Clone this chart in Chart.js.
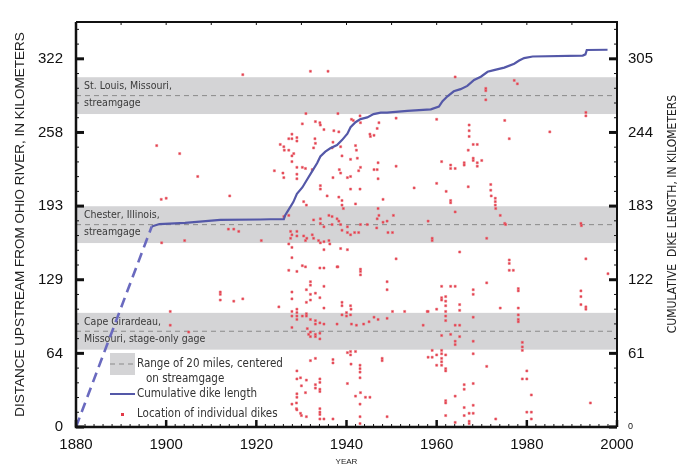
<!DOCTYPE html>
<html>
<head>
<meta charset="utf-8">
<script src="https://cdn.jsdelivr.net/npm/chart.js@4.4.1/dist/chart.umd.min.js"></script>
<style>
  html, body { margin: 0; padding: 0; background: #fff; }
  #wrap { width: 680px; height: 467px; }
</style>
</head>
<body>
<div id="wrap"><canvas id="dikeChart" width="680" height="467"></canvas></div>
<script>
// Datos del grafico
const leftTickLabels = ['0', '64', '129', '193', '258', '322'];
const rightTickLabels = ['0', '61', '122', '183', '244', '305'];
const xTickLabels = ['1880', '1900', '1920', '1940', '1960', '1980', '2000'];

// Gages (km aguas arriba del rio Ohio) y rango de 20 millas
const gageNames = [['St. Louis, Missouri,', 'streamgage'], ['Chester, Illinois,', 'streamgage'], ['Cape Girardeau,', 'Missouri, stage-only gage']];
const gageKm = [289.7, 176.9, 83.7];
const bandHalfKm = 16.09;

// Longitud acumulada de diques (km, eje derecho)
const dashYears = [1880, 1896.8];
const dashKm = [0, 166];
const lineYears = [1896.8, 1898.5, 1904.2, 1912.0, 1920.9, 1923.1, 1926.1, 1926.4, 1927.1, 1928.2, 1929.0, 1930.2, 1931.3, 1932.4, 1933.5, 1934.2, 1935.3, 1936.4, 1937.9, 1939.0, 1940.2, 1940.9, 1942.0, 1943.1, 1944.6, 1946.0, 1947.6, 1949.0, 1953.5, 1958.7, 1960.5, 1961.3, 1962.4, 1963.8, 1965.3, 1966.8, 1968.3, 1969.8, 1971.3, 1972.7, 1975.0, 1977.2, 1978.3, 1979.4, 1981.3, 1992.4, 1993.0, 1993.3, 1997.9];
const lineKm = [166, 168, 169, 171.4, 171.8, 172.0, 172.0, 175.4, 179.5, 186.2, 193.0, 198.3, 205.1, 211.8, 218.5, 224.0, 228.0, 230.7, 233.4, 237.5, 242.8, 248.2, 252.3, 254.9, 256.3, 259.0, 260.3, 260.3, 261.7, 263.0, 265.2, 269.8, 273.8, 277.9, 279.7, 282.4, 287.3, 290.0, 294.1, 295.4, 297.5, 300.8, 303.4, 305.4, 306.7, 307.5, 308.5, 312.1, 312.3];

// Ubicacion de diques individuales [anio, km]
const dikes = [
  [1897.9,246],[1898.9,199],[1900.0,200],[1899.0,161],[1900.9,89],[1900.9,101],[1903.0,239],[1904.1,163],[1905.0,83],[1907.0,219],
  [1912.0,118],[1912.0,116],[1912.0,111],[1914.1,202],[1913.8,173],[1915.0,173],[1916.1,171],[1915.0,110],[1917.0,112],[1917.0,308],
  [1921.1,163],[1924.0,224],[1925.0,105],[1925.3,247],[1926.1,245],[1926.2,242],[1925.9,222],[1926.1,218],[1926.1,184],[1927.2,185],
  [1927.2,252],[1927.9,252],[1927.9,256],[1929.0,253],[1929.0,250],[1927.2,242],[1928.3,239],[1927.9,237],[1927.9,232],[1929.0,227],[1929.0,221],[1929.0,217],
  [1930.2,265],[1930.2,227],[1930.9,226],[1931.0,274],[1930.5,197],[1931.1,194],[1932.4,225],[1932.7,244],[1933.0,252],[1933.1,248],[1933.1,267],[1934.1,266],
  [1934.2,264],[1935.0,260],[1934.2,211],[1934.2,208],[1935.7,202],[1935.9,311],[1932.0,311],
  [1936.8,244],[1937.0,249],[1937.2,259],[1938.3,258],[1938.1,274],[1937.0,218],[1938.4,225],[1938.7,222],[1938.7,245],[1939.0,237],[1940.2,218],[1940.9,219],
  [1940.9,234],[1942.4,235],[1942.0,246],[1942.2,242],[1941.5,268],[1943.1,266],[1941.1,269],[1943.0,272],[1943.1,227],[1942.7,224],[1938.3,201],[1939.0,198],
  [1939.0,194],[1939.3,191],[1940.9,208],[1943.0,208],[1942.0,195],
  [1945.2,256],[1945.3,254],[1946.1,255],[1946.8,261],[1947.2,266],[1946.8,225],[1947.0,217],[1947.0,231],[1946.1,225],
  [1951.0,270],[1951.0,228],[1955.0,209],[1948.1,199],[1947.0,191],[1947.2,185],[1950.4,185],[1948.1,179],[1949.0,180],[1949.2,170],[1950.2,170],[1951.0,147],
  [1949.0,127],[1949.0,120],[1938.1,140],[1950.2,101],[1952.9,101],[1949.0,95],[1957.0,89],[1957.9,101],[1947.9,60],[1947.9,58],[1949.0,9],
  [1960.0,269],[1967.2,264],[1967.2,259],[1967.2,254],[1975.1,268],[1976.1,252],[1985.1,258],[1993.1,275],[1993.1,272],[1968.1,247],[1969.0,247],[1967.0,242],
  [1961.1,232],[1966.1,231],[1966.1,229],[1968.1,235],[1968.1,233],[1969.0,231],[1969.0,228],[1970.0,233],[1963.1,229],[1963.1,226],[1964.1,226],[1960.0,213],
  [1962.1,206],[1967.0,210],[1972.0,212],[1972.0,207],[1972.1,202],[1973.0,200],[1973.0,197],[1973.0,194],[1973.1,191],[1963.1,198],[1963.1,196],
  [1964.1,188],[1974.1,185],[1958.1,180],[1975.1,178],[1975.3,177],[1992.0,178],[1992.1,176],[1959.0,165],[1959.0,163],[1971.1,165],[1965.1,153],[1976.1,146],
  [1976.1,143],[1976.1,137],[1977.0,137],[1993.1,147],[1998.0,134],[1971.1,126],[1961.1,123],[1963.1,123],[1964.1,123],[1978.1,121],[1978.1,119],
  [1968.1,120],[1968.1,116],[1961.1,113],[1961.1,111],[1992.0,119],[1992.0,114],[1992.0,107],[1993.1,105],[1993.1,103],
  [1962.0,114],[1962.0,110],[1962.0,106],[1962.0,101],[1962.0,97],[1962.0,93],[1960.0,103],[1965.1,107],[1965.1,102],[1958.1,101],[1974.1,104],[1978.1,104],
  [1978.1,98],[1978.1,94],[1978.1,92],[1968.1,96],[1964.1,89],[1965.1,89],[1963.1,81],[1961.1,80],[1964.1,75],[1964.1,72],[1965.1,79],[1968.1,75],
  [1979.0,74],[1979.0,70],[1979.0,67],[1959.0,67],[1958.1,61],[1959.0,61],[1960.0,63],[1961.1,67],[1961.1,64],[1961.1,60],[1961.1,57],[1961.1,54],[1962.0,63],
  [1962.0,51],[1962.0,49],[1960.0,54],[1968.1,64],[1971.1,53],[1980.0,49],[1980.0,42],[1979.0,42],[1966.1,37],[1966.1,33],[1968.1,38],[1964.1,27],[1981.0,28],
  [1962.0,23],[1962.0,21],[1966.1,17],[1968.1,19],[1994.1,21],[1967.2,12],[1968.1,12],[1966.1,10],[1962.0,10],[1980.0,13],[1981.0,13],[1981.0,7],[1964.1,4],
  [1967.2,5],[1967.2,3],[1973.1,7],
  [1964.1,306],[1970.9,296],[1970.9,294],[1970.9,286],[1977.2,303],[1977.9,300],
  [1927.2,160],[1927.9,157],[1927.9,148],[1935.0,155],[1938.7,156],[1940.2,155],[1927.2,137],[1929.0,136],[1930.2,141],[1930.9,140],[1934.1,139],[1935.0,139],
  [1937.9,140],[1943.1,138],[1943.1,136],[1943.1,133],[1932.0,127],[1932.0,124],[1931.1,120],[1932.0,116],[1933.1,117],[1927.9,118],[1927.9,112],[1934.1,113],
  [1931.1,109],[1932.0,111],[1935.0,104],[1939.0,109],[1939.0,106],[1940.9,106],[1941.0,103],[1927.9,101],[1927.9,97],[1929.0,100],[1929.0,97],[1929.0,94],
  [1930.2,97],[1931.1,99],[1931.1,97],[1932.0,94],[1933.1,93],[1933.1,90],[1934.1,91],[1935.0,90],[1927.9,87],[1937.9,90],[1939.0,98],[1940.0,100],[1940.0,97],
  [1940.9,98],[1941.1,90],[1942.2,89],[1943.8,90],[1945.0,92],[1946.1,96],[1947.0,94],[1932.0,83],[1932.0,79],[1933.1,81],[1933.1,79],[1934.1,82],[1934.1,77],
  [1940.2,65],[1940.9,66],[1942.0,66],[1940.9,63],[1932.0,58],[1933.1,60],[1937.0,59],[1937.0,56],[1941.0,55],[1943.0,54],[1943.0,51],[1943.0,48],[1943.0,43],
  [1929.0,49],[1929.0,42],[1929.8,43],[1931.1,41],[1934.1,42],[1934.1,39],[1933.1,37],[1930.0,36],[1940.2,38],[1933.1,34],[1934.1,33],[1934.1,31],[1929.0,29],
  [1929.0,26],[1942.0,27],[1943.1,30],[1944.2,26],[1945.2,26],[1927.9,20],[1928.9,21],[1943.0,20],[1934.1,16],[1934.1,13],[1934.1,11],[1930.0,10],[1931.1,9],
  [1934.1,7],[1935.0,7],[1937.0,7],[1943.0,9],[1943.0,3],[1928.9,16],[1930.9,30],[1929.0,15],[1929.8,12],[1929.0,103],[1935.0,123],[1931.3,86],[1931.6,81],
  [1932.7,181],[1934.2,182],[1936.1,185],[1936.8,184],[1937.9,182],[1938.3,180],[1938.7,177],[1934.2,178],[1935.0,175],[1936.8,177],[1939.0,172],[1940.2,175],
  [1940.2,170],[1940.9,168],[1941.8,170],[1943.1,177],[1942.7,170],[1944.6,177],[1946.8,182],[1946.7,174],[1927.6,171],[1927.9,168],[1927.6,165],[1929.0,171],
  [1929.0,167],[1930.5,167],[1931.2,165],[1930.9,163],[1932.4,168],[1932.7,165],[1933.8,163],[1934.2,161],[1935.0,162],[1936.1,163],[1936.3,160]
];

// Escalas: 8 millas = 12.87 km (izq), 40 mil pies = 12.19 km (der)
const LEFT_STEP = 12.8748;
const RIGHT_STEP = 12.192;
const leftTicks = [];
const rightTicks = [];
for (let i = 0; i <= 27; i++) { leftTicks.push(i * LEFT_STEP); rightTicks.push(i * RIGHT_STEP); }
const xTicks = [];
for (let y = 1880; y <= 2000; y += 2) xTicks.push(y);

const SANS = "'Liberation Sans', Arial, sans-serif";
const NARROW = "'Liberation Sans Narrow', 'DejaVu Sans Condensed', sans-serif";

// Bandas, rotulos, marco, ticks internos y leyenda
const overlay = {
  id: 'overlay',
  beforeDatasetsDraw(chart) {
    const { ctx, chartArea: a, scales: { y } } = chart;
    ctx.save();
    gageKm.forEach((km, i) => {
      const top = y.getPixelForValue(km + bandHalfKm);
      const bot = y.getPixelForValue(km - bandHalfKm);
      const mid = y.getPixelForValue(km);
      ctx.fillStyle = '#d4d4d6';
      ctx.fillRect(a.left, top, a.right - a.left, bot - top);
      ctx.strokeStyle = '#8a8a8a';
      ctx.lineWidth = 1;
      ctx.setLineDash([5, 4]);
      ctx.beginPath();
      ctx.moveTo(a.left, mid);
      ctx.lineTo(a.right, mid);
      ctx.stroke();
      ctx.setLineDash([]);
      ctx.fillStyle = '#3a3a3a';
      ctx.font = '10.5px ' + NARROW;
      ctx.textBaseline = 'middle';
      ctx.textAlign = 'left';
      ctx.fillText(gageNames[i][0], a.left + 8, mid - 9);
      ctx.fillText(gageNames[i][1], a.left + 8, mid + 8);
    });
    ctx.restore();
  },
  afterDraw(chart) {
    const { ctx, chartArea: a, scales: { x, y, y2 } } = chart;
    ctx.save();
    ctx.strokeStyle = '#111';
    // marco
    ctx.lineWidth = 2.5;
    ctx.beginPath();
    ctx.moveTo(a.left, a.top); ctx.lineTo(a.left, a.bottom); ctx.lineTo(a.right, a.bottom);
    ctx.stroke();
    ctx.lineWidth = 2;
    ctx.beginPath();
    ctx.moveTo(a.left, a.top); ctx.lineTo(a.right, a.top); ctx.lineTo(a.right, a.bottom);
    ctx.stroke();
    // ticks hacia adentro
    xTicks.forEach(v => {
      const px = x.getPixelForValue(v);
      const major = v % 20 === 0;
      ctx.lineWidth = major ? 2.5 : 1;
      ctx.beginPath();
      ctx.moveTo(px, a.bottom); ctx.lineTo(px, a.bottom - (major ? 7 : 3));
      ctx.stroke();
      if (v % 10 === 0) {
        ctx.lineWidth = 1;
        ctx.beginPath();
        ctx.moveTo(px, a.top); ctx.lineTo(px, a.top + 3);
        ctx.stroke();
      }
    });
    leftTicks.forEach((v, i) => {
      const py = y.getPixelForValue(v);
      const major = i % 5 === 0;
      ctx.lineWidth = major ? 3 : 1;
      ctx.beginPath();
      ctx.moveTo(a.left, py); ctx.lineTo(a.left + (major ? 8 : 3), py);
      ctx.stroke();
    });
    rightTicks.forEach((v, i) => {
      const py = y2.getPixelForValue(v);
      const major = i % 5 === 0;
      ctx.lineWidth = major ? 3 : 1;
      ctx.beginPath();
      ctx.moveTo(a.right, py); ctx.lineTo(a.right - (major ? 8 : 3), py);
      ctx.stroke();
    });
    // leyenda
    ctx.fillStyle = '#d4d4d6';
    ctx.fillRect(110, 353, 25, 22);
    ctx.strokeStyle = '#8a8a8a';
    ctx.lineWidth = 1;
    ctx.setLineDash([5, 4]);
    ctx.beginPath(); ctx.moveTo(110, 364); ctx.lineTo(135, 364); ctx.stroke();
    ctx.setLineDash([]);
    ctx.strokeStyle = '#5458a8';
    ctx.lineWidth = 2;
    ctx.beginPath(); ctx.moveTo(110, 394); ctx.lineTo(135, 394); ctx.stroke();
    ctx.fillStyle = '#e23a48';
    ctx.fillRect(121, 413, 3, 3);
    ctx.fillStyle = '#333';
    ctx.font = '11.5px ' + NARROW;
    ctx.textBaseline = 'middle';
    ctx.textAlign = 'left';
    ctx.fillText('Range of 20 miles, centered', 137, 364);
    ctx.fillText('on streamgage', 146, 379);
    ctx.fillText('Cumulative dike length', 137, 394);
    ctx.fillText('Location of individual dikes', 137, 414);
    // titulo del eje derecho
    ctx.translate(673, 214);
    ctx.rotate(-Math.PI / 2);
    ctx.textAlign = 'center';
    ctx.fillStyle = '#222';
    ctx.font = '12px ' + NARROW;
    ctx.fillText('CUMULATIVE  DIKE LENGTH, IN KILOMETERS', 0, 0);
    ctx.restore();
  }
};

const chart = new Chart(document.getElementById('dikeChart'), {
  type: 'scatter',
  data: {
    datasets: [
      {
        type: 'line',
        data: lineYears.map((yr, i) => ({ x: yr, y: lineKm[i] })),
        yAxisID: 'y2',
        borderColor: '#5458a8',
        borderWidth: 2.2,
        pointRadius: 0,
        tension: 0,
        fill: false
      },
      {
        type: 'line',
        data: dashYears.map((yr, i) => ({ x: yr, y: dashKm[i] })),
        yAxisID: 'y2',
        borderColor: '#6a6abf',
        borderWidth: 2.6,
        borderDash: [10, 6],
        pointRadius: 0,
        fill: false
      },
      {
        data: dikes.map(d => ({ x: d[0], y: d[1] })),
        yAxisID: 'y',
        pointStyle: 'rect',
        pointRadius: 1.5,
        backgroundColor: '#e23a48',
        borderColor: 'rgba(235,110,120,0.5)',
        borderWidth: 1
      }
    ]
  },
  options: {
    responsive: false,
    animation: false,
    layout: { padding: { top: 12, left: 0, right: 0, bottom: 0 } },
    plugins: { legend: { display: false }, tooltip: { enabled: false } },
    scales: {
      x: {
        type: 'linear', min: 1880, max: 2000,
        afterBuildTicks: s => { s.ticks = xTicks.map(v => ({ value: v })); },
        afterFit: s => { s.height = 40; },
        grid: { display: false, drawTicks: false },
        border: { display: false },
        ticks: {
          autoSkip: false, maxRotation: 0, padding: 9, color: '#111',
          font: { family: SANS, size: 15 },
          callback: v => (v % 20 === 0 ? xTickLabels[(v - 1880) / 20] : '')
        },
        title: { display: true, text: 'YEAR', color: '#222', font: { family: SANS, size: 8 }, padding: { top: 1, bottom: 0 } }
      },
      y: {
        type: 'linear', position: 'left', min: 0, max: 354.06,
        afterBuildTicks: s => { s.ticks = leftTicks.map(v => ({ value: v })); },
        afterFit: s => { s.width = 76; },
        grid: { display: false, drawTicks: false },
        border: { display: false },
        ticks: {
          autoSkip: false, padding: 13, color: '#111',
          font: { family: SANS, size: 15 },
          callback: (v, i) => (i % 5 === 0 ? leftTickLabels[i / 5] : '')
        },
        title: {
          display: true, text: 'DISTANCE UPSTREAM FROM OHIO RIVER, IN KILOMETERS', color: '#222',
          font: { family: SANS, size: 13.5 }, padding: { top: 12, bottom: 0 }
        }
      },
      y2: {
        type: 'linear', position: 'right', min: 0, max: 335.28,
        afterBuildTicks: s => { s.ticks = rightTicks.map(v => ({ value: v })); },
        afterFit: s => { s.width = 63; },
        grid: { display: false, drawTicks: false },
        border: { display: false },
        ticks: {
          autoSkip: false, padding: 11, color: '#111',
          font: ctx => ({ family: SANS, size: ctx.index === 0 ? 9 : 15 }),
          callback: (v, i) => (i % 5 === 0 ? rightTickLabels[i / 5] : '')
        }
      }
    }
  },
  plugins: [overlay]
});
</script>
</body>
</html>
